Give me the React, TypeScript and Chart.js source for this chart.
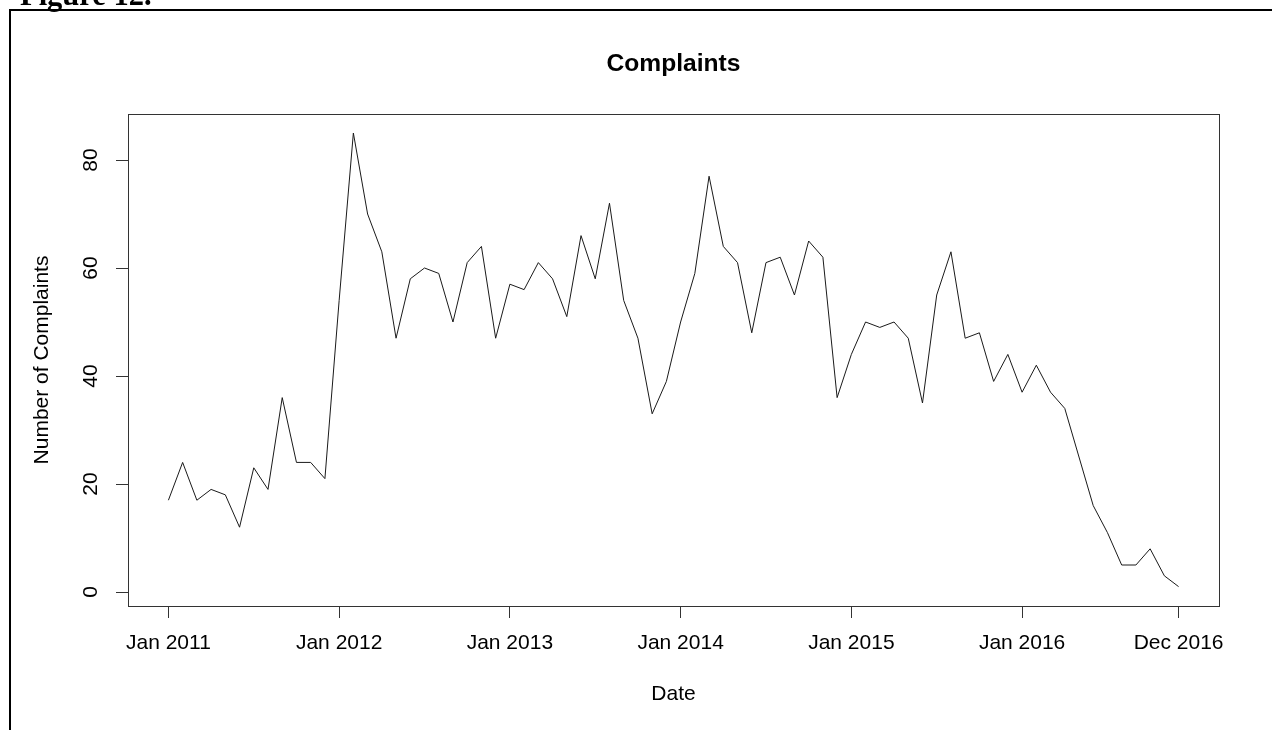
import React, { useEffect, useRef } from "react";
import { Chart, registerables } from "chart.js";

Chart.register(...registerables);

// ---- data (monthly complaints, Jan 2011 – Dec 2016) ----
const complaints2011 = [17, 24, 17, 19, 18, 12, 23, 19, 36, 24, 24, 21];
const complaints2012 = [54, 85, 70, 63, 47, 58, 60, 59, 50, 61, 64, 47];
const complaints2013 = [57, 56, 61, 58, 51, 66, 58, 72, 54, 47, 33, 39];
const complaints2014 = [50, 59, 77, 64, 61, 48, 61, 62, 55, 65, 62, 36];
const complaints2015 = [44, 50, 49, 50, 47, 35, 55, 63, 47, 48, 39, 44];
const complaints2016 = [37, 42, 37, 34, 25, 16, 11, 5, 5, 8, 3, 1];

const complaints = [
  ...complaints2011,
  ...complaints2012,
  ...complaints2013,
  ...complaints2014,
  ...complaints2015,
  ...complaints2016,
];

const xTickMonthIndex = [0, 12, 24, 36, 48, 60, 71];
const xTickLabels = ["Jan 2011", "Jan 2012", "Jan 2013", "Jan 2014", "Jan 2015", "Jan 2016", "Dec 2016"];
const yTickValues = [0, 20, 40, 60, 80];

const chartTitle = "Complaints";
const xTitle = "Date";
const yTitle = "Number of Complaints";
const figureCaption = "Figure 12.";

const SANS = '"Liberation Sans", Arial, sans-serif';
const SERIF = '"Liberation Serif", "Times New Roman", serif';

const decorPlugin = {
  id: "decor",
  beforeDraw(chart: any) {
    const ctx = chart.ctx as CanvasRenderingContext2D;
    const ca = chart.chartArea;
    ctx.save();
    ctx.fillStyle = "#ffffff";
    ctx.fillRect(0, 0, chart.width, chart.height);
    // page frame
    ctx.fillStyle = "#000000";
    ctx.fillRect(9, 9, 2, chart.height - 9);
    ctx.fillRect(9, 9, 1263, 2);
    // figure caption (cut off at top)
    ctx.font = `bold 30.5px ${SERIF}`;
    ctx.textAlign = "left";
    ctx.textBaseline = "alphabetic";
    ctx.fillText(figureCaption, 20, 5);
    // main title
    ctx.font = `bold 24.6px ${SANS}`;
    ctx.textAlign = "center";
    ctx.textBaseline = "middle";
    ctx.fillText(chartTitle, (ca.left + ca.right) / 2, 64);
    ctx.restore();
  },
  afterDraw(chart: any) {
    const ctx = chart.ctx as CanvasRenderingContext2D;
    const ca = chart.chartArea;
    ctx.save();
    ctx.strokeStyle = "#333333";
    ctx.lineWidth = 1;
    ctx.strokeRect(
      Math.round(ca.left) + 0.5,
      Math.round(ca.top) + 0.5,
      Math.round(ca.right) - Math.round(ca.left),
      Math.round(ca.bottom) - Math.round(ca.top)
    );
    // rotated y tick labels (R style)
    const ys = chart.scales.y;
    ctx.fillStyle = "#000000";
    ctx.font = `21px ${SANS}`;
    ctx.textAlign = "center";
    ctx.textBaseline = "middle";
    ys.ticks.forEach((t: any) => {
      const py = ys.getPixelForValue(t.value);
      ctx.save();
      ctx.translate(91, py);
      ctx.rotate(-Math.PI / 2);
      ctx.fillText(String(t.value), 0, 0);
      ctx.restore();
    });
    ctx.restore();
  },
};

export default function App() {
  const canvasRef = useRef<HTMLCanvasElement | null>(null);

  useEffect(() => {
    const canvas = canvasRef.current;
    if (!canvas) return;
    const chart = new Chart(canvas, {
      type: "line",
      data: {
        datasets: [
          {
            label: chartTitle,
            data: complaints.map((v, i) => ({ x: i, y: v })),
            borderColor: "#1a1a1a",
            borderWidth: 1,
            pointRadius: 0,
            tension: 0,
            fill: false,
          },
        ],
      },
      options: {
        animation: false,
        responsive: false,
        devicePixelRatio: 1,
        layout: { padding: { left: 0, top: 114, right: 57, bottom: 0 } },
        plugins: {
          legend: { display: false },
          title: { display: false },
          tooltip: { enabled: false },
        },
        scales: {
          x: {
            type: "linear",
            min: -2.84,
            max: 73.84,
            afterBuildTicks: (scale: any) => {
              scale.ticks = xTickMonthIndex.map((v) => ({ value: v }));
            },
            afterFit: (scale: any) => {
              scale.height = 124;
            },
            ticks: {
              autoSkip: false,
              maxRotation: 0,
              minRotation: 0,
              padding: 12.4,
              color: "#000000",
              font: { family: SANS, size: 21 },
              callback: (value: any) => {
                const idx = xTickMonthIndex.indexOf(Number(value));
                return idx >= 0 ? xTickLabels[idx] : "";
              },
            },
            grid: {
              display: true,
              drawOnChartArea: false,
              drawTicks: true,
              tickLength: 12,
              color: "#333333",
              lineWidth: 1,
            },
            border: { display: true, color: "#333333", width: 1 },
            title: {
              display: true,
              text: xTitle,
              color: "#000000",
              font: { family: SANS, size: 21 },
              padding: { top: 0, bottom: 23.4 },
            },
          },
          y: {
            type: "linear",
            min: -2.59,
            max: 88.52,
            afterBuildTicks: (scale: any) => {
              scale.ticks = yTickValues.map((v) => ({ value: v }));
            },
            afterFit: (scale: any) => {
              scale.width = 128;
            },
            ticks: {
              display: false,
            },
            grid: {
              display: true,
              drawOnChartArea: false,
              drawTicks: true,
              tickLength: 12,
              color: "#333333",
              lineWidth: 1,
            },
            border: { display: true, color: "#333333", width: 1 },
            title: {
              display: true,
              text: yTitle,
              color: "#000000",
              font: { family: SANS, size: 21 },
              padding: { top: 29.9, bottom: 0 },
            },
          },
        },
      },
      plugins: [decorPlugin],
    });
    return () => chart.destroy();
  }, []);

  return (
    <div
      style={{
        position: "fixed",
        left: 0,
        top: 0,
        width: 1276,
        height: 730,
        background: "#ffffff",
        overflow: "hidden",
      }}
    >
      <canvas ref={canvasRef} width={1276} height={730} style={{ display: "block", width: 1276, height: 730 }} />
    </div>
  );
}
